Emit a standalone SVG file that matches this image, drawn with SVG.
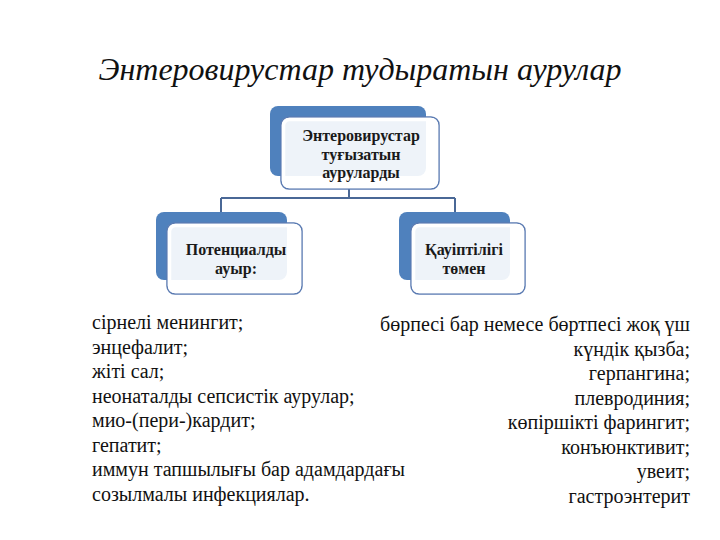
<svg xmlns="http://www.w3.org/2000/svg" width="720" height="540" viewBox="0 0 720 540">
<style>
.back{fill:#4f81bd}
.front{fill:#ffffff;fill-opacity:0.9;stroke:#5b7bb2;stroke-width:1.5}
.inner{fill:none;stroke:#ffffff;stroke-width:3.5}
.nt{font-family:"Liberation Serif","Times New Roman",serif;font-weight:bold;font-size:16px;fill:#1a1a1a;text-anchor:middle}
.lt{font-family:"Liberation Serif","Times New Roman",serif;font-size:20px;fill:#111}
.title{font-family:"Liberation Serif","Times New Roman",serif;font-style:italic;font-size:32px;fill:#111;text-anchor:middle}
.conn{fill:none;stroke:#4a6896;stroke-width:2}
</style>
<rect width="720" height="540" fill="#ffffff"/>
<text class="title" x="360" y="80">Энтеровирустар тудыратын аурулар</text>
<g id="connectors">
<path class="conn" d="M349 189 V198 M221 198 H455 M221 198 V212 M455 198 V212"/>
</g>
<g id="node-top">
<rect class="back" x="270" y="106" width="156" height="70" rx="8"/>
<rect class="front" x="281" y="117" width="158" height="72" rx="8"/>
<rect class="inner" x="283.5" y="119.5" width="153" height="67" rx="6"/>
<text class="nt" x="361" y="141">Энтеровирустар</text>
<text class="nt" x="361" y="160">туғызатын</text>
<text class="nt" x="361" y="178">аурулард&#1099;</text>
</g>
<g id="node-left">
<rect class="back" x="156" y="212" width="131" height="68" rx="8"/>
<rect class="front" x="167" y="223" width="135" height="71" rx="8"/>
<rect class="inner" x="169.5" y="225.5" width="130" height="66" rx="6"/>
<text class="nt" x="236" y="255">Потенциалды</text>
<text class="nt" x="236" y="274">ауыр:</text>
</g>
<g id="node-right">
<rect class="back" x="399" y="212" width="111" height="68" rx="8"/>
<rect class="front" x="411" y="223" width="114" height="71" rx="8"/>
<rect class="inner" x="413.5" y="225.5" width="109" height="66" rx="6"/>
<text class="nt" x="464" y="255">Қауiптiлiгi</text>
<text class="nt" x="464" y="274">төмен</text>
</g>
<g id="list-left">
<text class="lt" x="92" y="329">сірнелі менингит;</text>
<text class="lt" x="92" y="353.5">энцефалит;</text>
<text class="lt" x="92" y="378">жіті сал;</text>
<text class="lt" x="92" y="402.5">неонаталды сепсистік аурулар;</text>
<text class="lt" x="92" y="427">мио-(пери-)кардит;</text>
<text class="lt" x="92" y="451.5">гепатит;</text>
<text class="lt" x="92" y="476">иммун тапшылығы бар адамдардағы</text>
<text class="lt" x="92" y="500.5">созылмалы инфекциялар.</text>
</g>
<g id="list-right" text-anchor="end">
<text class="lt" x="690" y="331">бөрпесі бар немесе бөртпесі жоқ үш</text>
<text class="lt" x="690" y="355.5">күндік қызба;</text>
<text class="lt" x="690" y="380">герпангина;</text>
<text class="lt" x="690" y="404.5">плевродиния;</text>
<text class="lt" x="690" y="429">көпіршікті фарингит;</text>
<text class="lt" x="690" y="453.5">конъюнктивит;</text>
<text class="lt" x="690" y="478">увеит;</text>
<text class="lt" x="690" y="502.5">гастроэнтерит</text>
</g>
</svg>
